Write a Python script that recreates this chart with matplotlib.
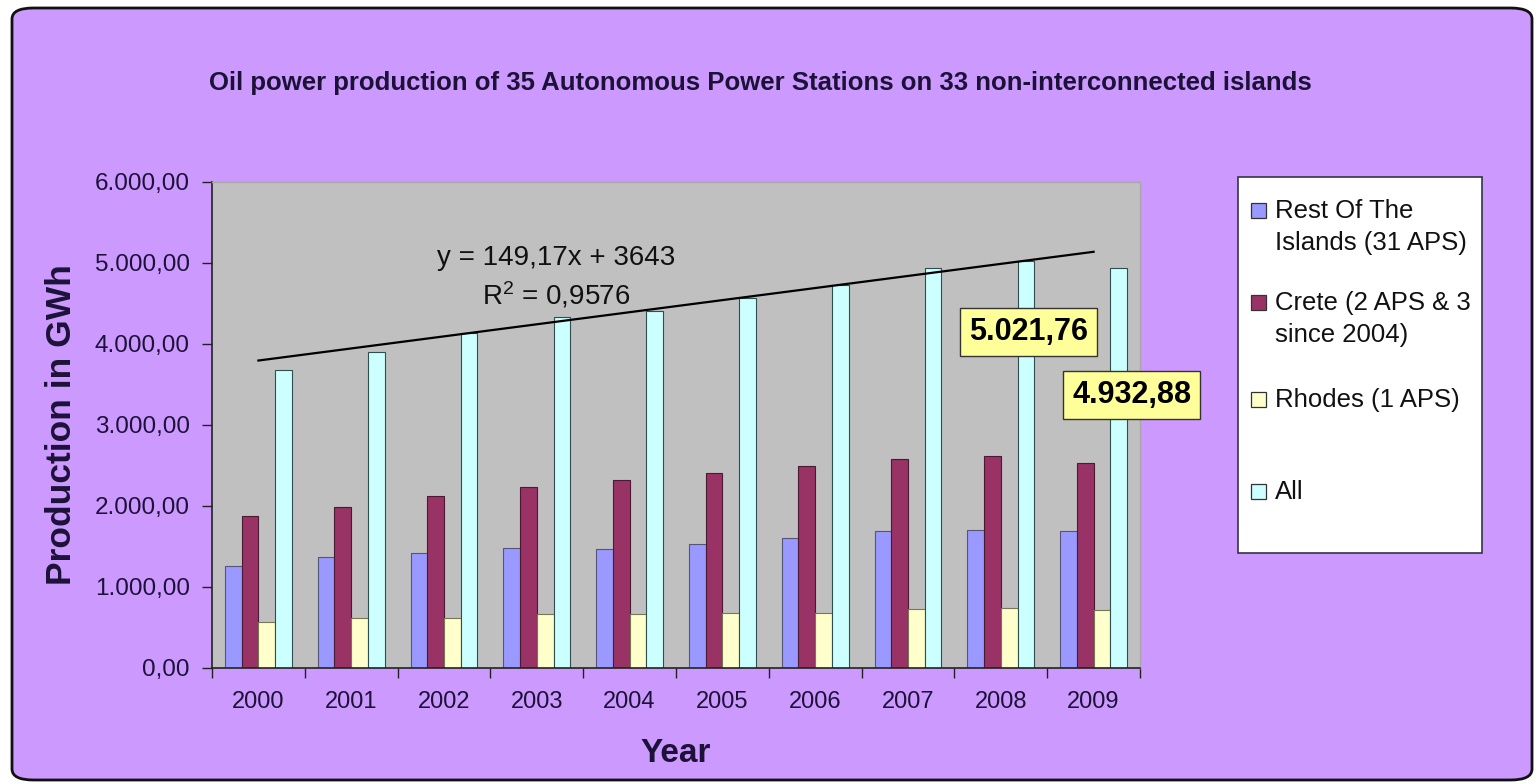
import numpy as np
import matplotlib.pyplot as plt
from matplotlib.patches import FancyBboxPatch, Rectangle

plt.rcParams['font.family'] = ['Liberation Sans', 'DejaVu Sans']

years = ['2000', '2001', '2002', '2003', '2004', '2005', '2006', '2007', '2008', '2009']
rest = [1259, 1363, 1420, 1474, 1462, 1527, 1605, 1691, 1695, 1690]
crete = [1877, 1980, 2123, 2227, 2317, 2400, 2494, 2580, 2610, 2530]
rhodes = [560, 610, 610, 659, 659, 672, 672, 721, 735, 715]
all_aps = [3675, 3901, 4128, 4333, 4404, 4568, 4725, 4931, 5021.76, 4932.88]

series_lines = [['Rest Of The', 'Islands (31 APS)'], ['Crete (2 APS & 3', 'since 2004)'],
                ['Rhodes (1 APS)'], ['All']]
series_colors = ['#9999FF', '#993366', '#FFFFCC', '#CCFFFF']

# linear trend of "All" as fitted in the spreadsheet
slope_txt, intercept, r2_txt = '149,17', 3643, '0,9576'
slope = 149.17

txt_col = '#1c1238'


def fmt_gr(v):
    # 5,021.76 -> 5.021,76
    s = f'{v:,.2f}'
    return s.replace(',', '#').replace('.', ',').replace('#', '.')


W, H = 1537, 784
fig = plt.figure(figsize=(W / 100, H / 100), dpi=100)
fig.patch.set_facecolor('white')

# rounded chart-area frame
frame = FancyBboxPatch((12 / W, 4 / H), 1520 / W, 772 / H,
                       boxstyle='round,pad=0,rounding_size=0.014',
                       transform=fig.transFigure, facecolor='#CC99FF',
                       edgecolor='#111111', linewidth=2, zorder=-5)
fig.patches.append(frame)

ax = fig.add_axes([212 / W, 1 - 667.7 / H, 928 / W, 486 / H])
ax.set_zorder(2)
ax.set_facecolor('#C0C0C0')

x = np.arange(len(years))
w = 0.18
data = [rest, crete, rhodes, all_aps]
edges = ['#55557a', '#4a1a33', '#777755', '#2f4f4f']
for i, (vals, col, ec) in enumerate(zip(data, series_colors, edges)):
    ax.bar(x + (i - 1.5) * w, vals, width=w, color=col, edgecolor=ec,
           linewidth=0.8, zorder=2)

# trend line over the group centres
tx = np.array([0, len(years) - 1])
ax.plot(tx, slope * (tx + 1) + intercept, color='black', linewidth=1.6, zorder=3)
ax.text(3.21, 5058, f'y = {slope_txt}x + {intercept}',
        ha='center', va='center', fontsize=20, color='#111111', zorder=4)
ax.text(3.21, 4600, '$\\mathregular{R^2}$ = ' + r2_txt, ha='center', va='center',
        fontsize=20, color='#111111', zorder=4)

# value callouts for the last two years
box = dict(boxstyle='square,pad=0.3', facecolor='#FFFF99', edgecolor='#333333',
           linewidth=1)
ax.text(8.30, 4148, fmt_gr(all_aps[8]), ha='center', va='center', fontsize=22,
        fontweight='bold', bbox=box, zorder=5)
ax.text(9.41, 3370, fmt_gr(all_aps[9]), ha='center', va='center', fontsize=22,
        fontweight='bold', bbox=box, zorder=5, clip_on=False)

ax.set_xlim(-0.5, len(years) - 0.5)
ax.set_ylim(0, 6000)
ax.set_yticks(np.arange(0, 6001, 1000))
ax.set_yticklabels([fmt_gr(v) for v in np.arange(0, 6001, 1000)])
ax.set_xticks(x)
ax.set_xticklabels(years)
ax.set_xticks(np.arange(-0.5, len(years)), minor=True)
ax.tick_params(axis='x', which='major', length=0, pad=17, labelsize=17)
ax.tick_params(axis='x', which='minor', length=7, width=1, color='#222222')
ax.tick_params(axis='y', length=7, width=1, color='#222222', pad=9, labelsize=17.5)
for lab in ax.get_yticklabels() + ax.get_xticklabels():
    lab.set_color(txt_col)

for side in ['left', 'bottom']:
    ax.spines[side].set_color('#222222')
    ax.spines[side].set_linewidth(1.2)
for side in ['top', 'right']:
    ax.spines[side].set_color('#A8A8A8')
    ax.spines[side].set_linewidth(1)

ax.set_xlabel('Year', fontsize=24, fontweight='bold', labelpad=18, color=txt_col)
ax.set_ylabel('Production in GWh', fontsize=25.5, fontweight='bold', labelpad=12,
              color=txt_col)

fig.text(760 / W, 1 - 83 / H,
         'Oil power production of 35 Autonomous Power Stations on 33 non-interconnected islands',
         ha='center', va='center', fontsize=18.5, fontweight='bold', color=txt_col)

# legend box
fig.patches.append(Rectangle((1238 / W, 1 - 553 / H), 244 / W, 376 / H,
                             transform=fig.transFigure, facecolor='white',
                             edgecolor='#333344', linewidth=1.2, zorder=1))
leg_y = [211, 303, 400, 492]
for lines, col, yy in zip(series_lines, series_colors, leg_y):
    fig.patches.append(Rectangle((1251 / W, 1 - (yy + 7) / H), 15 / W, 15 / H,
                                 transform=fig.transFigure, facecolor=col,
                                 edgecolor='#333333', linewidth=0.9, zorder=2))
    for k, line in enumerate(lines):
        fig.text(1275 / W, 1 - (yy + 32 * k) / H, line, ha='left', va='center',
                 fontsize=18.5, color='#111111', zorder=3)

fig.savefig('out.png', dpi=100, facecolor=fig.get_facecolor())
